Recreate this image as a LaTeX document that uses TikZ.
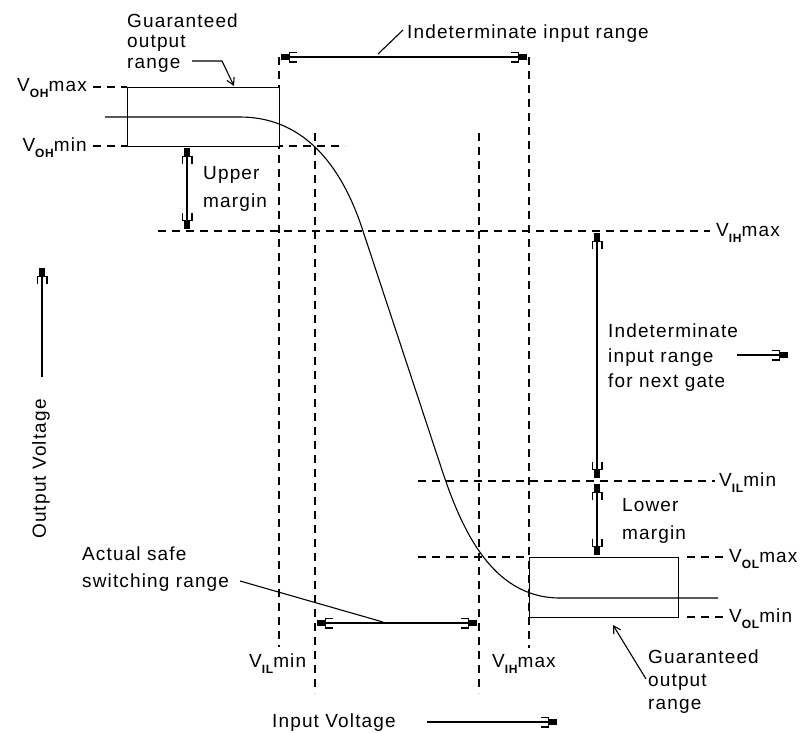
\documentclass[tikz,border=0pt]{standalone}
\usepackage{fontspec}
\setmainfont{Liberation Sans}[LetterSpace=6]
\usetikzlibrary{arrows.meta}
\newcommand\lsub[1]{\raisebox{-6.5pt}{\fontsize{12}{12}\selectfont\bfseries #1}}
\begin{document}
\begin{tikzpicture}[x=1pt,y=-1pt,
  rng/.tip={Bracket[length=7pt,width=11pt,line width=1.3pt] Rectangle[length=8pt,width=6pt]},
  ldt/.tip={Straight Barb[length=7pt,width=8pt,line width=1.1pt]},
  dsh/.style={line width=1.3pt, dash pattern=on 8pt off 6pt},
  sol/.style={line width=1.3pt},
  curve/.style={line width=1.1pt},
  arr/.style={line width=1.3pt, arrows={rng}-{rng}},
  arr1/.style={line width=1.3pt, arrows=-{rng}},
  lead/.style={line width=1.1pt, arrows=-{ldt}},
  leadplain/.style={line width=1.1pt},
  lbl/.style={inner sep=0pt, align=left, font=\fontsize{19}{#1}\selectfont},
  lbl/.default=22,
  vlbl/.style={inner sep=0pt, font=\fontsize{19}{22}\selectfont}]
\useasboundingbox (0,0) rectangle (801,732);
\fill[white] (0,0) rectangle (801,732);

% ---- dashed reference lines
\draw[dsh] (93,87) -- (127,87);
\draw[dsh] (93,146) -- (345,146);
\draw[dsh] (158,231) -- (710,231);
\draw[dsh] (418,481) -- (715,481);
\draw[dsh] (418,557) -- (529,557);
\draw[dsh] (687,557) -- (728,557);
\draw[dsh] (687,617) -- (728,617);
\draw[dsh] (279,57) -- (279,647);
\draw[dsh] (315,133) -- (315,693);
\draw[dsh] (479,133) -- (479,693);
\draw[dsh] (529,57) -- (529,648);

% ---- guaranteed output boxes
\node[sol, draw, fill=white, inner sep=0pt, minimum width=152pt, minimum height=59pt, anchor=north west] (boxH) at (127,87) {};
\node[sol, draw, fill=white, inner sep=0pt, minimum width=149pt, minimum height=60pt, anchor=north west] (boxL) at (529,557) {};

% ---- transfer curve
\draw[curve] (105,117) -- (240,117) .. controls (300,117) and (340,160) .. (363,231)
  -- (441,467) .. controls (460,525) and (490,598) .. (560,598) -- (718,598);

% ---- level labels
\node[vlbl, anchor=base east] (voh1) at (87,91) {V\lsub{OH}max};
\node[vlbl, anchor=base east] (voh2) at (87,151) {V\lsub{OH}min};
\node[vlbl, anchor=base west] (vih1) at (716,236) {V\lsub{IH}max};
\node[vlbl, anchor=base west] (vil1) at (719,486) {V\lsub{IL}min};
\node[vlbl, anchor=base west] (vol1) at (729,562) {V\lsub{OL}max};
\node[vlbl, anchor=base west] (vol2) at (729,622) {V\lsub{OL}min};
\node[vlbl, anchor=base west] (vil2) at (249,667) {V\lsub{IL}min};
\node[vlbl, anchor=base west] (vih2) at (492,667) {V\lsub{IH}max};

% ---- text labels
\node[lbl=20.5, anchor=north west] (gor1) at (127,13.5) {Guaranteed\\output\\range};
\node[vlbl, anchor=base west] (iir) at (407,38) {Indeterminate input range};
\node[lbl=28, anchor=north west] (um) at (203,166.5) {Upper\\margin};
\node[lbl=25, anchor=north west] (iirn) at (608,323.5) {Indeterminate\\input range\\for next gate};
\node[lbl=28, anchor=north west] (lm) at (622,498.5) {Lower\\margin};
\node[lbl=27, anchor=north west] (ass) at (82,546.5) {Actual safe\\switching range};
\node[lbl=23, anchor=north west] (gor2) at (648,649.5) {Guaranteed\\output\\range};
\node[vlbl, anchor=base west] (inv) at (272,727) {Input Voltage};
\node[vlbl, rotate=90] (outv) at (41,469) {Output Voltage};

% ---- arrow end points
\coordinate (iA) at (281,57);   \coordinate (iB) at (527,57);
\coordinate (uA) at (187,148);  \coordinate (uB) at (187,229);
\coordinate (nA) at (597,233);  \coordinate (nB) at (597,478);
\coordinate (lA) at (597,484);  \coordinate (lB) at (597,555);
\coordinate (sA) at (317,623);  \coordinate (sB) at (477,623);
\coordinate (oA) at (42,377);   \coordinate (oB) at (42,268);
\coordinate (vA) at (427,722);  \coordinate (vB) at (557,722);
\coordinate (rA) at (737,355);  \coordinate (rB) at (788,355);

\draw[arr] (iA) -- (iB);
\draw[arr] (uA) -- (uB);
\draw[arr] (nA) -- (nB);
\draw[arr] (lA) -- (lB);
\draw[arr] (sA) -- (sB);
\draw[arr1] (oA) -- (oB);
\draw[arr1] (vA) -- (vB);
\draw[arr1] (rA) -- (rB);

% ---- leaders
\coordinate (g1a) at (192,61); \coordinate (g1b) at (222,61); \coordinate (g1c) at (234,86);
\draw[lead] (g1a) -- (g1b) -- (g1c);
\coordinate (g2a) at (646,679); \coordinate (g2b) at (613,625);
\draw[lead] (g2a) -- (g2b);
\coordinate (i1a) at (403,30); \coordinate (i1b) at (378,54);
\draw[leadplain] (i1a) -- (i1b);
\coordinate (s1a) at (240,581); \coordinate (s1b) at (383,622);
\draw[leadplain] (s1a) -- (s1b);
\end{tikzpicture}
\end{document}
